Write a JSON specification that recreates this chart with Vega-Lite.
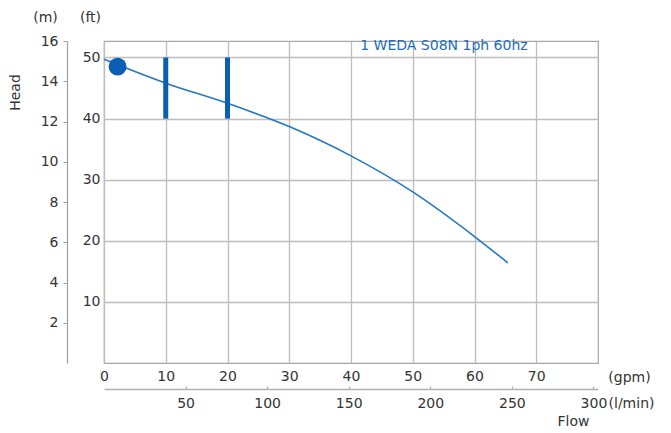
{
  "$schema": "https://vega.github.io/schema/vega-lite/v6.json",
  "width": 494,
  "height": 322,
  "autosize": {"type": "none"},
  "padding": {"left": 104, "top": 41, "right": 73, "bottom": 70},
  "background": "white",
  "config": {
    "view": {"stroke": "#a6a6a6", "strokeWidth": 1.2},
    "font": "DejaVu Sans",
    "axis": {
      "labelFont": "DejaVu Sans", "labelFontSize": 14, "labelColor": "#333333",
      "titleFont": "DejaVu Sans", "titleFontSize": 14, "titleColor": "#333333", "titleFontWeight": "normal",
      "labelFlush": false, "labelOverlap": false
    }
  },
  "datasets": {
    "curve": [
      {"gpm": 0, "ft": 49.7},
      {"gpm": 10, "ft": 45.8},
      {"gpm": 20, "ft": 42.5},
      {"gpm": 30, "ft": 38.7},
      {"gpm": 40, "ft": 33.9},
      {"gpm": 50, "ft": 28.0},
      {"gpm": 60, "ft": 20.7},
      {"gpm": 65.4, "ft": 16.4}
    ],
    "bars": [
      {"gpm": 10, "lo": 40, "hi": 50},
      {"gpm": 20, "lo": 40, "hi": 50}
    ],
    "point": [{"gpm": 2.2, "ft": 48.5}],
    "label": [{"gpm": 41.5, "ft": 51.9, "text": "1 WEDA S08N 1ph 60hz"}],
    "metric": [{"lpm": 0, "m": 0}]
  },
  "layer": [
    {
      "layer": [
        {
          "data": {"name": "curve"},
          "mark": {"type": "line", "interpolate": "monotone", "color": "#2377c2", "strokeWidth": 1.6},
          "encoding": {
            "x": {
              "field": "gpm", "type": "quantitative",
              "scale": {"domain": [0, 80], "nice": false},
              "axis": {
                "values": [0, 10, 20, 30, 40, 50, 60, 70],
                "grid": true, "gridColor": "#bdbdbd", "gridWidth": 1.3,
                "ticks": false, "domain": false, "labelPadding": 6,
                "title": "(gpm)", "titleX": 525, "titleY": 14,
                "titleAlign": "center", "titleBaseline": "middle"
              }
            },
            "y": {
              "field": "ft", "type": "quantitative",
              "scale": {"domain": [0, 52.7], "nice": false},
              "axis": {
                "values": [10, 20, 30, 40, 50],
                "grid": true, "gridColor": "#bdbdbd", "gridWidth": 1.3,
                "ticks": false, "domain": false, "labelPadding": 4,
                "title": "(ft)", "titleAngle": 0, "titleX": -14, "titleY": -24,
                "titleAlign": "center", "titleBaseline": "middle"
              }
            }
          }
        },
        {
          "data": {"name": "bars"},
          "mark": {"type": "rule", "strokeWidth": 5, "color": "#0a5fb2"},
          "encoding": {
            "x": {"field": "gpm", "type": "quantitative"},
            "y": {"field": "lo", "type": "quantitative"},
            "y2": {"field": "hi"}
          }
        },
        {
          "data": {"name": "point"},
          "mark": {"type": "circle", "size": 320, "opacity": 1, "color": "#0a5fb2"},
          "encoding": {
            "x": {"field": "gpm", "type": "quantitative"},
            "y": {"field": "ft", "type": "quantitative"}
          }
        },
        {
          "data": {"name": "label"},
          "mark": {"type": "text", "align": "left", "baseline": "middle", "fontSize": 14, "color": "#1c6dbf", "font": "DejaVu Sans"},
          "encoding": {
            "x": {"field": "gpm", "type": "quantitative"},
            "y": {"field": "ft", "type": "quantitative"},
            "text": {"field": "text"}
          }
        }
      ]
    },
    {
      "data": {"name": "metric"},
      "mark": {"type": "point", "opacity": 0},
      "encoding": {
        "x": {
          "field": "lpm", "type": "quantitative",
          "scale": {"domain": [0, 302.8], "nice": false},
          "axis": {
            "orient": "bottom", "offset": 26,
            "values": [50, 100, 150, 200, 250, 300],
            "grid": false, "domain": true, "domainColor": "#b0b0b0", "domainWidth": 1.3,
            "ticks": true, "tickSize": -3, "tickColor": "#b0b0b0", "tickWidth": 1.3,
            "labelPadding": 10,
            "title": "(l/min)", "titleX": 527, "titleY": 14,
            "titleAlign": "center", "titleBaseline": "middle"
          }
        },
        "y": {
          "field": "m", "type": "quantitative",
          "scale": {"domain": [0, 16], "nice": false},
          "axis": {
            "orient": "left", "offset": 37,
            "values": [2, 4, 6, 8, 10, 12, 14, 16],
            "grid": false, "domain": true, "domainColor": "#a0a0a0", "domainWidth": 1.2,
            "ticks": true, "tickSize": 4, "tickColor": "#a0a0a0",
            "labelPadding": 5,
            "title": "(m)", "titleAngle": 0, "titleX": -22, "titleY": -24,
            "titleAlign": "center", "titleBaseline": "middle"
          }
        }
      }
    },
    {
      "data": {"name": "metric"},
      "mark": {"type": "point", "opacity": 0},
      "encoding": {
        "x": {
          "field": "lpm", "type": "quantitative",
          "axis": {
            "orient": "bottom", "grid": false, "domain": false, "ticks": false, "labels": false,
            "title": "Flow", "titleX": 469, "titleY": 58,
            "titleAlign": "center", "titleBaseline": "middle"
          }
        },
        "y": {
          "field": "m", "type": "quantitative",
          "axis": {
            "orient": "left", "grid": false, "domain": false, "ticks": false, "labels": false,
            "title": "Head", "titleAngle": -90, "titleX": -89, "titleY": 51,
            "titleAlign": "center", "titleBaseline": "middle"
          }
        }
      }
    }
  ],
  "resolve": {
    "scale": {"x": "independent", "y": "independent"},
    "axis": {"x": "independent", "y": "independent"}
  }
}
